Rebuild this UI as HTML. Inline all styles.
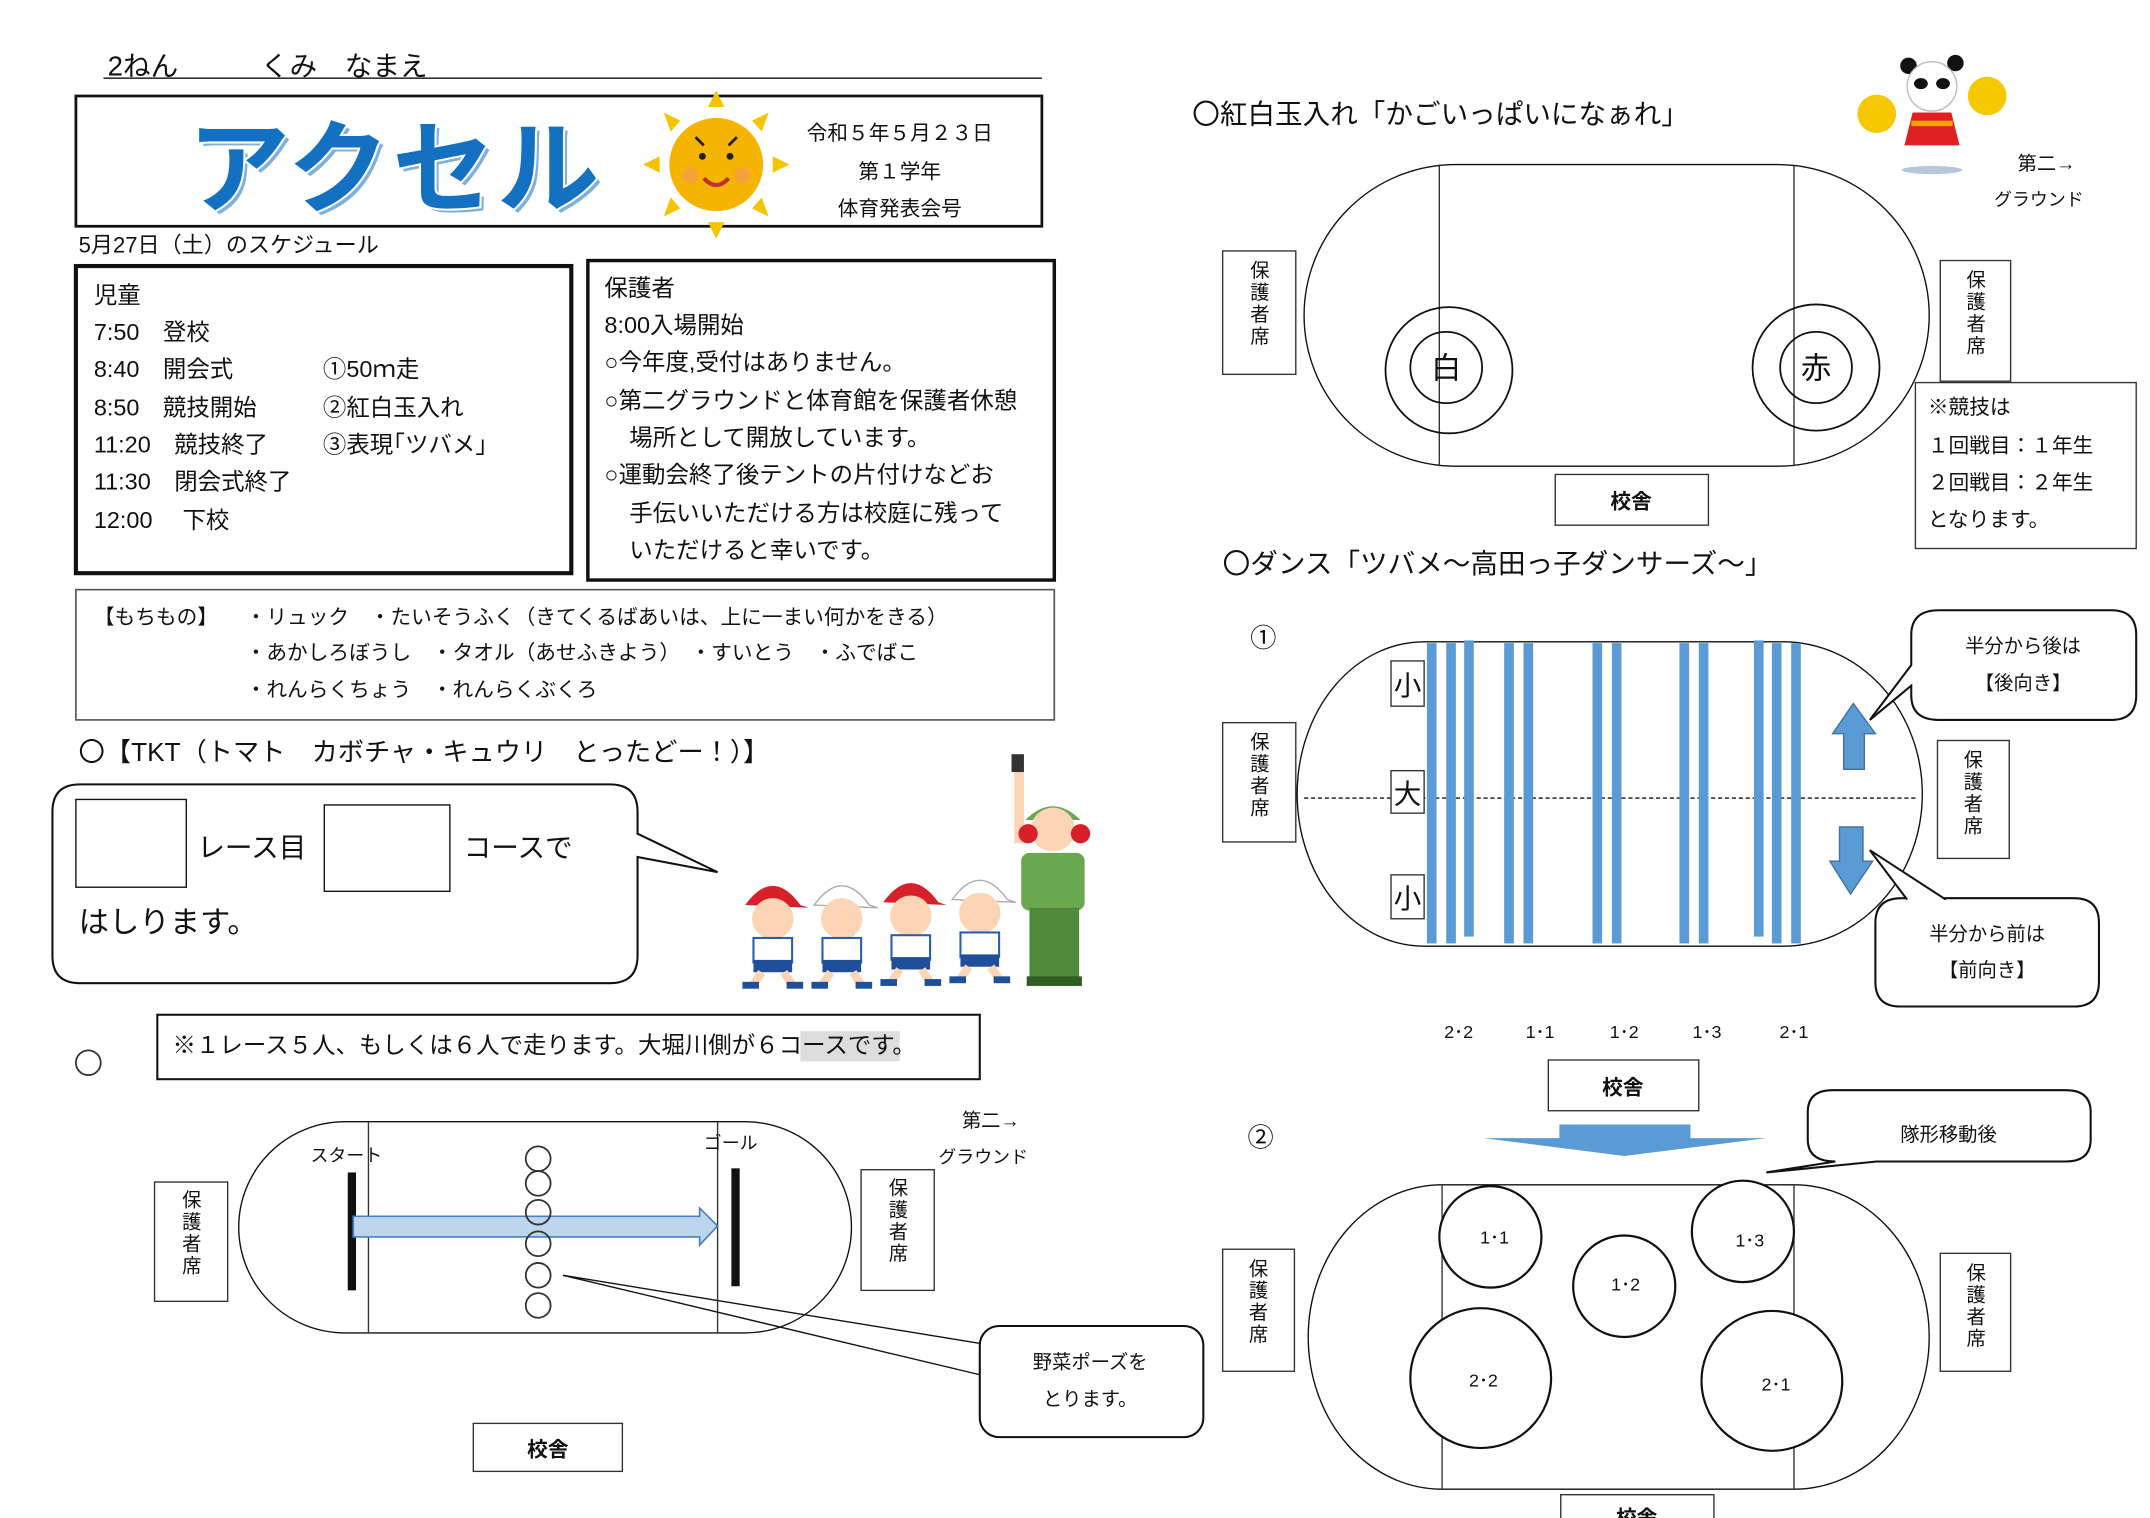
<!DOCTYPE html>
<html><head><meta charset="utf-8">
<style>
html,body{margin:0;padding:0;background:#fff;}
svg{display:block;}
text{font-family:"Liberation Sans","Noto Sans CJK JP",sans-serif;fill:#111;}
</style></head>
<body>
<svg width="2150" height="1518" viewBox="0 0 1558 1107" preserveAspectRatio="none" xmlns="http://www.w3.org/2000/svg">
<rect width="1558" height="1107" fill="#fff"/>

<!-- header -->
<text x="78" y="55" font-size="20">2ねん　　　くみ　なまえ</text>
<line x1="75" y1="57" x2="755" y2="57" stroke="#333" stroke-width="1.2"/>
<rect x="55" y="70" width="700" height="95" fill="none" stroke="#111" stroke-width="2"/>
<text x="139" y="152" font-size="74" font-weight="bold" letter-spacing="2" style="fill:#7fb0dc">アクセル</text>
<text x="136" y="149" font-size="74" font-weight="bold" letter-spacing="2" stroke="#fff" stroke-width="3" paint-order="stroke" style="fill:#1470c0">アクセル</text>
<!-- sun -->
<g fill="#f5c400">
<polygon points="519,66 513,78 525,78"/>
<polygon points="519,174 513,162 525,162"/>
<polygon points="466,120 478,114 478,126"/>
<polygon points="572,120 560,114 560,126"/>
<polygon points="481,82 493,88 486,96"/>
<polygon points="557,82 545,88 552,96"/>
<polygon points="481,158 493,152 486,144"/>
<polygon points="557,158 545,152 552,144"/>
</g>
<circle cx="519" cy="120" r="34" fill="#f5b400"/>
<circle cx="500" cy="128" r="6" fill="#f49a5a" opacity="0.6"/>
<circle cx="538" cy="128" r="6" fill="#f49a5a" opacity="0.6"/>
<circle cx="509" cy="114" r="2.5" fill="#222"/><circle cx="529" cy="114" r="2.5" fill="#222"/>
<line x1="504" y1="100" x2="510" y2="106" stroke="#222" stroke-width="2"/>
<line x1="534" y1="100" x2="528" y2="106" stroke="#222" stroke-width="2"/>
<path d="M510,130 Q519,140 528,130" fill="none" stroke="#b33" stroke-width="3"/>
<text x="652" y="102" font-size="15" text-anchor="middle">令和５年５月２３日</text>
<text x="652" y="130" font-size="15" text-anchor="middle">第１学年</text>
<text x="652" y="157" font-size="15" text-anchor="middle">体育発表会号</text>

<text x="57" y="184" font-size="16">5月27日（土）のスケジュール</text>

<!-- schedule box -->
<rect x="55" y="194" width="359" height="224" fill="none" stroke="#111" stroke-width="3"/>
<g font-size="17">
<text x="68" y="221">児童</text>
<text x="68" y="248">7:50　登校</text>
<text x="68" y="275">8:40　開会式</text>
<text x="68" y="303">8:50　競技開始</text>
<text x="68" y="330">11:20　競技終了</text>
<text x="68" y="357">11:30　閉会式終了</text>
<text x="68" y="385">12:00　 下校</text>
<text x="234" y="275">①50ｍ走</text>
<text x="234" y="303">②紅白玉入れ</text>
<text x="234" y="330">③表現｢ツバメ｣</text>
</g>
<rect x="426" y="190" width="338" height="233" fill="none" stroke="#111" stroke-width="2.5"/>
<g font-size="17">
<text x="438" y="216">保護者</text>
<text x="438" y="243">8:00入場開始</text>
<text x="438" y="270">○今年度,受付はありません。</text>
<text x="438" y="298">○第二グラウンドと体育館を保護者休憩</text>
<text x="456" y="325">場所として開放しています。</text>
<text x="438" y="352">○運動会終了後テントの片付けなどお</text>
<text x="456" y="380">手伝いいただける方は校庭に残って</text>
<text x="456" y="407">いただけると幸いです。</text>
</g>
<rect x="55" y="430" width="709" height="95" fill="none" stroke="#555" stroke-width="1.2"/>
<g font-size="15">
<text x="68" y="455">【もちもの】</text>
<text x="178" y="455">・リュック　・たいそうふく（きてくるばあいは、上に一まい何かをきる）</text>
<text x="178" y="481">・あかしろぼうし　・タオル（あせふきよう）　・すいとう　・ふでばこ</text>
<text x="178" y="508">・れんらくちょう　・れんらくぶくろ</text>
</g>

<text x="57" y="555" font-size="19">〇【TKT（トマト　カボチャ・キュウリ　とったどー！）】</text>

<!-- speech bubble -->
<path d="M58,572 L442,572 Q462,572 462,592 L462,608 L520,636 L462,625 L462,697 Q462,717 442,717 L58,717 Q38,717 38,697 L38,592 Q38,572 58,572 Z" fill="#fff" stroke="#111" stroke-width="1.5"/>
<rect x="55" y="583" width="80" height="64" fill="none" stroke="#111" stroke-width="1"/>
<rect x="235" y="587" width="91" height="63" fill="none" stroke="#111" stroke-width="1"/>
<text x="143" y="625" font-size="20">レース目</text>
<text x="336" y="625" font-size="20">コースで</text>
<text x="57" y="680" font-size="22">はしります。</text>

<!-- kids illustration -->
<g>
 <g transform="translate(560,0)">
  <path d="M-20,660 Q0,632 20,660 L26,662 Z" fill="#d8202a"/>
  <circle cx="0" cy="670" r="15" fill="#fbd5b5"/>
  <rect x="-14" y="684" width="28" height="18" fill="#fff" stroke="#2a5ea8" stroke-width="1.5"/>
  <rect x="-14" y="700" width="28" height="9" fill="#1f4f9a"/>
  <line x1="-8" y1="709" x2="-14" y2="718" stroke="#fbd5b5" stroke-width="6"/><line x1="8" y1="709" x2="14" y2="718" stroke="#fbd5b5" stroke-width="6"/>
  <rect x="-22" y="716" width="12" height="5" fill="#1f4f9a"/><rect x="10" y="716" width="12" height="5" fill="#1f4f9a"/>
 </g>
 <g transform="translate(610,0)">
  <path d="M-20,660 Q0,632 20,660 L26,662 Z" fill="#fff" stroke="#aaa"/>
  <circle cx="0" cy="670" r="15" fill="#fbd5b5"/>
  <rect x="-14" y="684" width="28" height="18" fill="#fff" stroke="#2a5ea8" stroke-width="1.5"/>
  <rect x="-14" y="700" width="28" height="9" fill="#1f4f9a"/>
  <line x1="-8" y1="709" x2="-14" y2="718" stroke="#fbd5b5" stroke-width="6"/><line x1="8" y1="709" x2="14" y2="718" stroke="#fbd5b5" stroke-width="6"/>
  <rect x="-22" y="716" width="12" height="5" fill="#1f4f9a"/><rect x="10" y="716" width="12" height="5" fill="#1f4f9a"/>
 </g>
 <g transform="translate(660,-2)">
  <path d="M-20,660 Q0,632 20,660 L26,662 Z" fill="#d8202a"/>
  <circle cx="0" cy="670" r="15" fill="#fbd5b5"/>
  <rect x="-14" y="684" width="28" height="18" fill="#fff" stroke="#2a5ea8" stroke-width="1.5"/>
  <rect x="-14" y="700" width="28" height="9" fill="#1f4f9a"/>
  <line x1="-8" y1="709" x2="-14" y2="718" stroke="#fbd5b5" stroke-width="6"/><line x1="8" y1="709" x2="14" y2="718" stroke="#fbd5b5" stroke-width="6"/>
  <rect x="-22" y="716" width="12" height="5" fill="#1f4f9a"/><rect x="10" y="716" width="12" height="5" fill="#1f4f9a"/>
 </g>
 <g transform="translate(710,-4)">
  <path d="M-20,660 Q0,632 20,660 L26,662 Z" fill="#fff" stroke="#aaa"/>
  <circle cx="0" cy="670" r="15" fill="#fbd5b5"/>
  <rect x="-14" y="684" width="28" height="18" fill="#fff" stroke="#2a5ea8" stroke-width="1.5"/>
  <rect x="-14" y="700" width="28" height="9" fill="#1f4f9a"/>
  <line x1="-8" y1="709" x2="-14" y2="718" stroke="#fbd5b5" stroke-width="6"/><line x1="8" y1="709" x2="14" y2="718" stroke="#fbd5b5" stroke-width="6"/>
  <rect x="-22" y="716" width="12" height="5" fill="#1f4f9a"/><rect x="10" y="716" width="12" height="5" fill="#1f4f9a"/>
 </g>
 <!-- teacher -->
 <rect x="735" y="560" width="7" height="55" fill="#fbd5b5"/>
 <rect x="733" y="550" width="9" height="13" fill="#333"/>
 <path d="M743,598 Q763,578 783,598 Z" fill="#6aa84f"/>
 <circle cx="763" cy="605" r="16" fill="#fbd5b5"/>
 <circle cx="745" cy="608" r="7" fill="#d8202a"/><circle cx="783" cy="608" r="7" fill="#d8202a"/>
 <rect x="740" y="622" width="46" height="42" rx="6" fill="#6aa84f"/>
 <rect x="746" y="662" width="36" height="52" fill="#4e8a3a"/>
 <rect x="744" y="712" width="40" height="7" fill="#2f5e23"/>
</g>

<!-- 50m -->
<circle cx="64" cy="775" r="9" fill="none" stroke="#333" stroke-width="1.3"/>
<rect x="114" y="740" width="596" height="47" fill="none" stroke="#111" stroke-width="1.5"/>
<rect x="580" y="752" width="72" height="22" fill="#ddd"/>
<text x="125" y="768" font-size="17">※１レース５人、もしくは６人で走ります。大堀川側が６コースです。</text>

<path d="M250,818 L540,818 A77,77 0 0 1 540,972 L250,972 A77,77 0 0 1 250,818 Z" fill="none" stroke="#111" stroke-width="1"/>
<line x1="267" y1="818" x2="267" y2="972" stroke="#333" stroke-width="1"/>
<line x1="520" y1="818" x2="520" y2="972" stroke="#333" stroke-width="1"/>
<rect x="252" y="855" width="6" height="86" fill="#111"/>
<rect x="530" y="852" width="6" height="86" fill="#111"/>
<path d="M256,887 L507,887 L507,881 L520,894 L507,908 L507,902 L256,902 Z" fill="#bdd6ee" stroke="#4a7fc0" stroke-width="1.2"/>
<g fill="none" stroke="#333" stroke-width="1.3">
<circle cx="390" cy="845" r="9"/><circle cx="390" cy="863" r="9"/><circle cx="390" cy="884" r="9"/>
<circle cx="390" cy="907" r="9"/><circle cx="390" cy="930" r="9"/><circle cx="390" cy="952" r="9"/>
</g>
<text x="225" y="847" font-size="13">スタート</text>
<text x="510" y="838" font-size="13">ゴール</text>
<rect x="112" y="862" width="53" height="87" fill="#fff" stroke="#333" stroke-width="1"/>
<g font-size="14" text-anchor="middle"><text x="139" y="880">保</text><text x="139" y="896">護</text><text x="139" y="912">者</text><text x="139" y="928">席</text></g>
<rect x="624" y="853" width="53" height="88" fill="#fff" stroke="#333" stroke-width="1"/>
<g font-size="14" text-anchor="middle"><text x="651" y="871">保</text><text x="651" y="887">護</text><text x="651" y="903">者</text><text x="651" y="919">席</text></g>
<text x="697" y="822" font-size="14">第二→</text>
<text x="680" y="848" font-size="13">グラウンド</text>
<path d="M408,930 L712,980" stroke="#111" stroke-width="1"/>
<path d="M408,930 L712,1003" stroke="#111" stroke-width="1"/>
<rect x="710" y="967" width="162" height="81" rx="14" fill="#fff" stroke="#111" stroke-width="1.5"/>
<text x="790" y="998" font-size="14" text-anchor="middle">野菜ポーズを</text>
<text x="790" y="1025" font-size="14" text-anchor="middle">とります。</text>
<rect x="343" y="1038" width="108" height="35" fill="#fff" stroke="#333" stroke-width="1"/>
<text x="397" y="1062" font-size="15" font-weight="bold" text-anchor="middle">校舎</text>

<!-- right: 玉入れ -->
<text x="864" y="90" font-size="20">〇紅白玉入れ「かごいっぱいになぁれ」</text>
<!-- panda -->
<g>
 <circle cx="1360" cy="83" r="14" fill="#f5c800"/><circle cx="1440" cy="70" r="14" fill="#f5c800"/>
 <circle cx="1383" cy="48" r="6" fill="#111"/><circle cx="1417" cy="46" r="6" fill="#111"/>
 <circle cx="1400" cy="63" r="18" fill="#fff" stroke="#bbb"/>
 <ellipse cx="1392" cy="61" rx="5" ry="4" fill="#111"/><ellipse cx="1408" cy="61" rx="5" ry="4" fill="#111"/>
 <path d="M1386,82 L1414,82 L1420,106 L1380,106 Z" fill="#e02020"/>
 <rect x="1385" y="88" width="30" height="4" fill="#f5a000"/>
 <ellipse cx="1400" cy="124" rx="22" ry="3" fill="#b9c8d8"/>
</g>
<text x="1462" y="124" font-size="14">第二→</text>
<text x="1445" y="150" font-size="13">グラウンド</text>

<path d="M1055,120 L1288,120 A110,110 0 0 1 1288,340 L1055,340 A110,110 0 0 1 1055,120 Z" fill="none" stroke="#111" stroke-width="1"/>
<line x1="1043" y1="120" x2="1043" y2="340" stroke="#333" stroke-width="1"/>
<line x1="1300" y1="120" x2="1300" y2="340" stroke="#333" stroke-width="1"/>
<circle cx="1050" cy="270" r="46" fill="none" stroke="#111" stroke-width="1.3"/>
<circle cx="1048" cy="268" r="26" fill="none" stroke="#111" stroke-width="1.3"/>
<text x="1048" y="276" font-size="22" text-anchor="middle">白</text>
<circle cx="1316" cy="268" r="46" fill="none" stroke="#111" stroke-width="1.3"/>
<circle cx="1316" cy="268" r="26" fill="none" stroke="#111" stroke-width="1.3"/>
<text x="1316" y="276" font-size="22" text-anchor="middle">赤</text>
<rect x="886" y="183" width="53" height="90" fill="#fff" stroke="#333" stroke-width="1"/>
<g font-size="14" text-anchor="middle"><text x="913" y="202">保</text><text x="913" y="218">護</text><text x="913" y="234">者</text><text x="913" y="250">席</text></g>
<rect x="1406" y="190" width="51" height="88" fill="#fff" stroke="#333" stroke-width="1"/>
<g font-size="14" text-anchor="middle"><text x="1432" y="209">保</text><text x="1432" y="225">護</text><text x="1432" y="241">者</text><text x="1432" y="257">席</text></g>
<rect x="1388" y="279" width="160" height="121" fill="#fff" stroke="#333" stroke-width="1"/>
<g font-size="15">
<text x="1397" y="302">※競技は</text>
<text x="1397" y="330">１回戦目：１年生</text>
<text x="1397" y="357">２回戦目：２年生</text>
<text x="1397" y="384">となります。</text>
</g>
<rect x="1127" y="346" width="111" height="37" fill="#fff" stroke="#333" stroke-width="1"/>
<text x="1182" y="371" font-size="15" font-weight="bold" text-anchor="middle">校舎</text>

<!-- dance -->
<text x="886" y="418" font-size="20">〇ダンス「ツバメ～高田っ子ダンサーズ～」</text>
<text x="906" y="472" font-size="19">①</text>
<path d="M1032,468 L1292,468 A101,111 0 0 1 1292,690 L1032,690 A92,111 0 0 1 1032,468 Z" fill="none" stroke="#111" stroke-width="1"/>
<line x1="945" y1="582" x2="1390" y2="582" stroke="#111" stroke-width="1" stroke-dasharray="3,2"/>
<g fill="#5b9bd5">
<rect x="1034" y="469" width="7" height="219"/>
<rect x="1048" y="469" width="7" height="219"/>
<rect x="1061" y="467" width="7" height="216"/>
<rect x="1090" y="469" width="7" height="219"/>
<rect x="1104" y="469" width="7" height="219"/>
<rect x="1154" y="469" width="7" height="219"/>
<rect x="1168" y="469" width="7" height="219"/>
<rect x="1217" y="469" width="7" height="219"/>
<rect x="1231" y="469" width="7" height="219"/>
<rect x="1271" y="467" width="7" height="216"/>
<rect x="1284" y="469" width="7" height="219"/>
<rect x="1298" y="469" width="7" height="219"/>
</g>
<rect x="1008" y="482" width="24" height="33" fill="#fff" stroke="#333" stroke-width="1"/>
<text x="1020" y="507" font-size="20" text-anchor="middle">小</text>
<rect x="1008" y="562" width="24" height="31" fill="#fff" stroke="#333" stroke-width="1"/>
<text x="1020" y="586" font-size="20" text-anchor="middle">大</text>
<rect x="1008" y="638" width="24" height="32" fill="#fff" stroke="#333" stroke-width="1"/>
<text x="1020" y="662" font-size="20" text-anchor="middle">小</text>
<rect x="886" y="527" width="53" height="87" fill="#fff" stroke="#333" stroke-width="1"/>
<g font-size="14" text-anchor="middle"><text x="913" y="546">保</text><text x="913" y="562">護</text><text x="913" y="578">者</text><text x="913" y="594">席</text></g>
<rect x="1404" y="540" width="52" height="86" fill="#fff" stroke="#333" stroke-width="1"/>
<g font-size="14" text-anchor="middle"><text x="1430" y="559">保</text><text x="1430" y="575">護</text><text x="1430" y="591">者</text><text x="1430" y="607">席</text></g>
<path d="M1343,513 L1359,535 L1351,535 L1351,561 L1336,561 L1336,535 L1328,535 Z" fill="#5b9bd5" stroke="#41719c" stroke-width="1"/>
<path d="M1333,603 L1350,603 L1350,628 L1357,628 L1341,652 L1326,628 L1333,628 Z" fill="#5b9bd5" stroke="#41719c" stroke-width="1"/>
<path d="M1405,445 L1530,445 Q1548,445 1548,463 L1548,507 Q1548,525 1530,525 L1405,525 Q1385,525 1385,507 L1385,500 L1355,525 L1385,485 L1385,463 Q1385,445 1405,445 Z" fill="#fff" stroke="#111" stroke-width="1.5"/>
<text x="1466" y="476" font-size="14" text-anchor="middle">半分から後は</text>
<text x="1466" y="503" font-size="14" text-anchor="middle">【後向き】</text>
<path d="M1378,655 L1503,655 Q1521,655 1521,673 L1521,716 Q1521,734 1503,734 L1377,734 Q1359,734 1359,716 L1359,673 Q1359,655 1378,655 Z" fill="#fff" stroke="#111" stroke-width="1.5"/>
<path d="M1382,656 L1355,620 L1410,656" fill="#fff" stroke="#111" stroke-width="1.5"/>
<text x="1440" y="686" font-size="14" text-anchor="middle">半分から前は</text>
<text x="1440" y="712" font-size="14" text-anchor="middle">【前向き】</text>
<g font-size="13" font-family="Liberation Serif">
<text x="1057" y="757" text-anchor="middle">2･2</text>
<text x="1116" y="757" text-anchor="middle">1･1</text>
<text x="1177" y="757" text-anchor="middle">1･2</text>
<text x="1237" y="757" text-anchor="middle">1･3</text>
<text x="1300" y="757" text-anchor="middle">2･1</text>
</g>
<rect x="1122" y="773" width="109" height="37" fill="#fff" stroke="#333" stroke-width="1"/>
<text x="1176" y="798" font-size="15" font-weight="bold" text-anchor="middle">校舎</text>

<!-- 2 -->
<text x="904" y="836" font-size="19">②</text>
<path d="M1130,820 L1225,820 L1225,830 L1280,830 L1177,843 L1075,830 L1130,830 Z" fill="#5b9bd5"/>
<path d="M1328,795 L1497,795 Q1515,795 1515,811 L1515,831 Q1515,847 1497,847 L1360,847 L1280,855 L1330,847 Q1310,847 1310,831 L1310,811 Q1310,795 1328,795 Z" fill="#fff" stroke="#111" stroke-width="1.5"/>
<text x="1412" y="832" font-size="14" text-anchor="middle">隊形移動後</text>
<path d="M1045,864 L1300,864 A98,111 0 0 1 1300,1086 L1045,1086 A97,111 0 0 1 1045,864 Z" fill="none" stroke="#111" stroke-width="1"/>
<line x1="1045" y1="864" x2="1045" y2="1086" stroke="#333" stroke-width="1"/>
<line x1="1300" y1="864" x2="1300" y2="1086" stroke="#333" stroke-width="1"/>
<g fill="#fff" stroke="#111" stroke-width="1.6">
<circle cx="1080" cy="902" r="37"/>
<circle cx="1177" cy="938" r="37"/>
<circle cx="1263" cy="898" r="37"/>
<circle cx="1073" cy="1005" r="51"/>
<circle cx="1284" cy="1007" r="51"/>
</g>
<g font-size="13" font-family="Liberation Serif" text-anchor="middle">
<text x="1083" y="907">1･1</text>
<text x="1178" y="941">1･2</text>
<text x="1268" y="909">1･3</text>
<text x="1075" y="1011">2･2</text>
<text x="1287" y="1014">2･1</text>
</g>
<rect x="886" y="911" width="52" height="89" fill="#fff" stroke="#333" stroke-width="1"/>
<g font-size="14" text-anchor="middle"><text x="912" y="930">保</text><text x="912" y="946">護</text><text x="912" y="962">者</text><text x="912" y="978">席</text></g>
<rect x="1406" y="914" width="51" height="86" fill="#fff" stroke="#333" stroke-width="1"/>
<g font-size="14" text-anchor="middle"><text x="1432" y="933">保</text><text x="1432" y="949">護</text><text x="1432" y="965">者</text><text x="1432" y="981">席</text></g>
<rect x="1131" y="1090" width="111" height="30" fill="#fff" stroke="#333" stroke-width="1"/>
<text x="1186" y="1112" font-size="15" font-weight="bold" text-anchor="middle">校舎</text>
</svg>
</body></html>
